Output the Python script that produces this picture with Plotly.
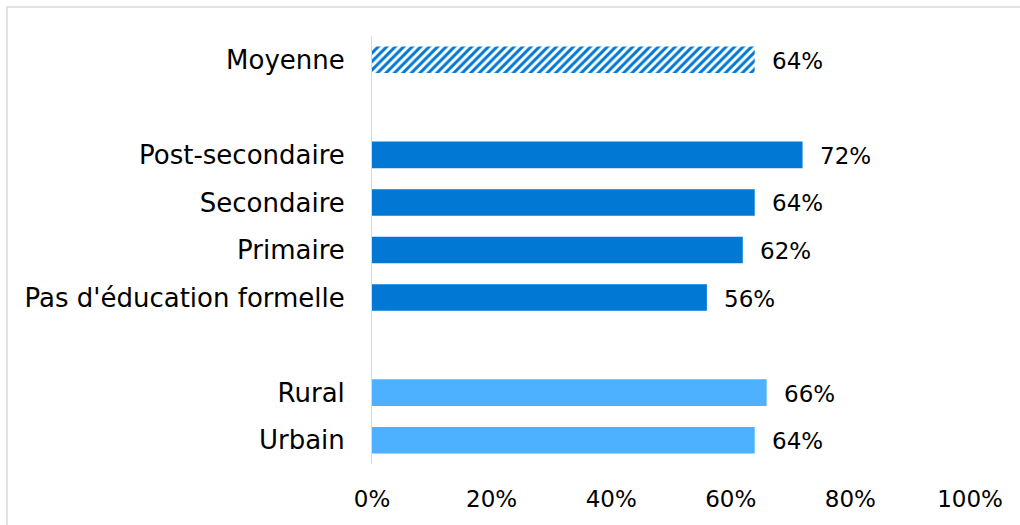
import plotly.graph_objects as go

# Survey shares by group (percent)
categories = ["Moyenne", " ", "Post-secondaire", "Secondaire", "Primaire",
              "Pas d'éducation formelle", "  ", "Rural", "Urbain"]
average_label = ["Moyenne"]
average_value = [64]
education_labels = ["Post-secondaire", "Secondaire", "Primaire", "Pas d'éducation formelle"]
education_values = [72, 64, 62, 56]
area_labels = ["Rural", "Urbain"]
area_values = [66, 64]
tick_values = [0, 20, 40, 60, 80, 100]
tick_labels = ["0%", "20%", "40%", "60%", "80%", "100%"]

W, H = 1020, 525
ML, MR, MT, MB = 372, 50, 36, 61
FONT = "DejaVu Sans"
DARK = "#0078D4"
LIGHT = "#4DB1FF"
BAR_W = 0.56

fig = go.Figure()
fig.add_trace(go.Bar(
    y=average_label, x=average_value, orientation="h", width=BAR_W,
    marker=dict(color="white", line=dict(width=0),
                pattern=dict(shape="/", fgcolor=DARK, fgopacity=1, bgcolor="white",
                             size=6, solidity=0.5, fillmode="overlay")),
))
fig.add_trace(go.Bar(
    y=education_labels, x=education_values, orientation="h", width=BAR_W,
    marker=dict(color=DARK, line=dict(width=0)),
))
fig.add_trace(go.Bar(
    y=area_labels, x=area_values, orientation="h", width=BAR_W,
    marker=dict(color=LIGHT, line=dict(width=0)),
))

# value labels to the right of each bar
for labels, values in ((average_label, average_value),
                       (education_labels, education_values),
                       (area_labels, area_values)):
    for lab, val in zip(labels, values):
        fig.add_annotation(x=val, y=lab, text=f"{val}%", showarrow=False,
                           xanchor="left", yanchor="middle", xshift=15, yshift=-1,
                           font=dict(family=FONT, size=23, color="#000000"))

# outer chart frame
pw, ph = W - ML - MR, H - MT - MB
fig.add_shape(type="rect", xref="paper", yref="paper",
              x0=(7 - ML) / pw, x1=(W + 10 - ML) / pw,
              y0=-(H + 10 - MT - ph) / ph, y1=(H - MB - 7) / ph,
              line=dict(color="#D9D9D9", width=1.5), fillcolor="rgba(0,0,0,0)",
              layer="below")

fig.update_layout(
    width=W, height=H,
    margin=dict(l=ML, r=MR, t=MT, b=MB, pad=0, autoexpand=False),
    paper_bgcolor="white", plot_bgcolor="white",
    showlegend=False, barmode="overlay",
    font=dict(family=FONT, size=23, color="#000000"),
    xaxis=dict(range=[0, 100], tickvals=tick_values, ticktext=tick_labels,
               showgrid=False, zeroline=False, showline=False, automargin=False,
               ticks="outside", ticklen=14, tickcolor="rgba(0,0,0,0)",
               tickfont=dict(family=FONT, size=23, color="#000000"), fixedrange=True),
    yaxis=dict(categoryorder="array", categoryarray=categories, type="category",
               range=[len(categories) - 0.5, -0.5], automargin=False,
               showgrid=False, zeroline=False, showline=True,
               linecolor="#D9D9D9", linewidth=1,
               ticks="outside", ticklen=21, tickcolor="rgba(0,0,0,0)",
               tickfont=dict(family=FONT, size=26, color="#000000"), fixedrange=True),
)

fig.write_html("out.html")
